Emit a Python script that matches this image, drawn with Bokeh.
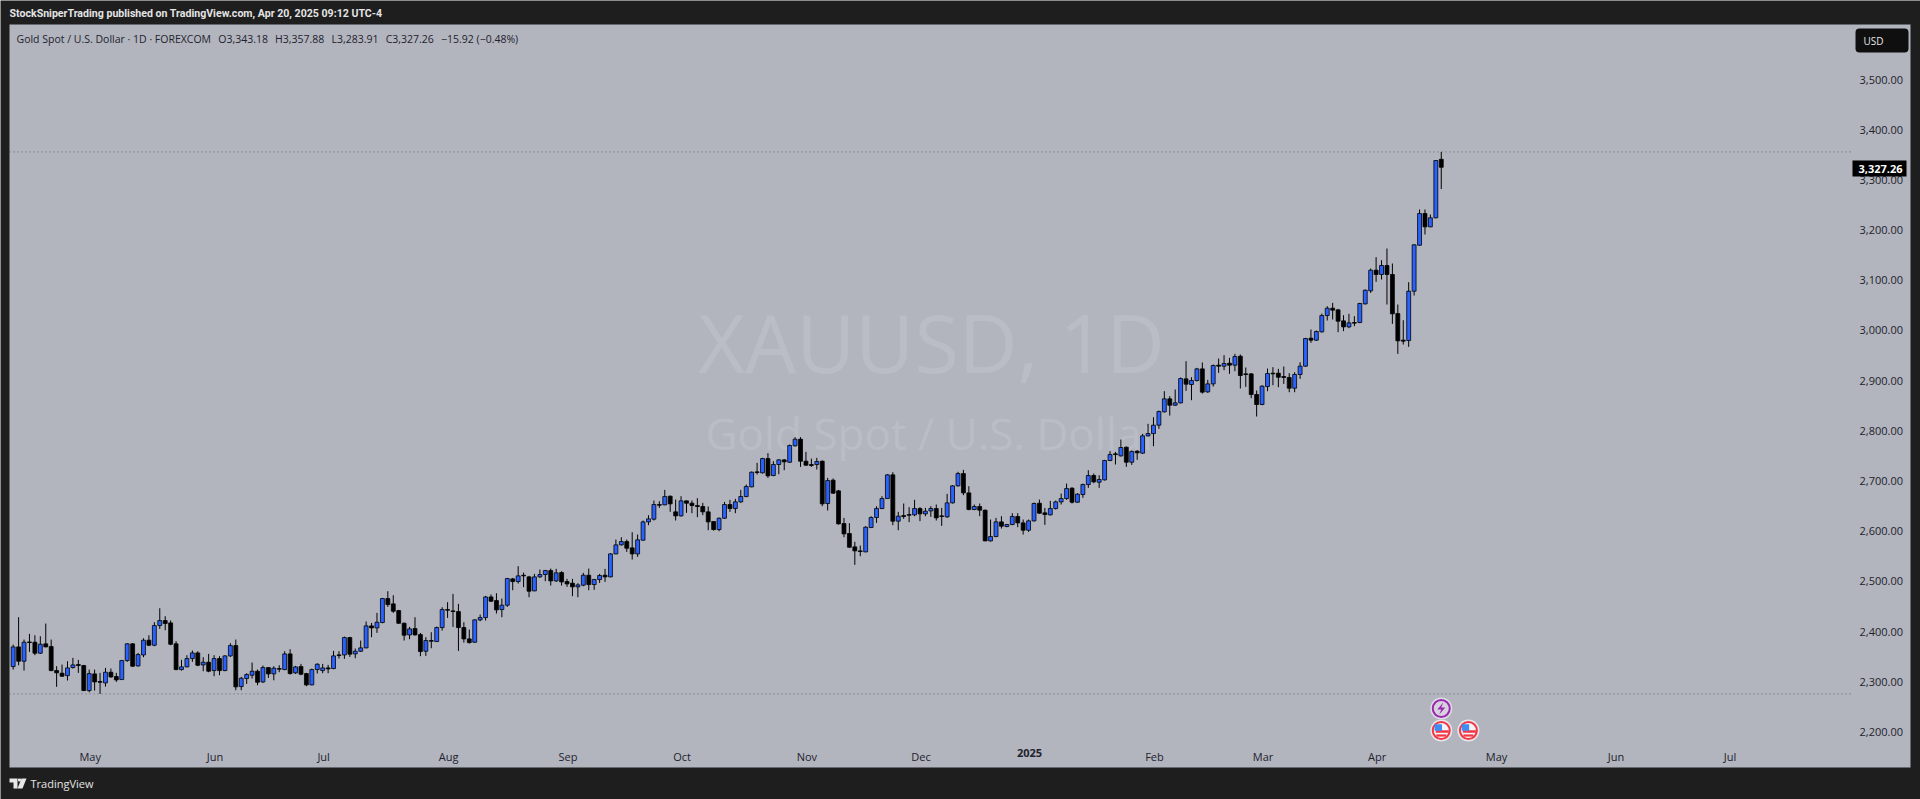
from bokeh.plotting import figure
from bokeh.embed import file_html
from bokeh.resources import INLINE
from bokeh.models import (LinearAxis, FixedTicker, NumeralTickFormatter, Label,
                          BoxAnnotation, PolyAnnotation, ColumnDataSource, Range1d)

opens = [2332.3,2371.5,2342.9,2381.4,2380.8,2358.9,2377.5,2372.1,2324.3,2319.0,2314.3,2330.3,2336.3,2334.3,2284.4,2317.7,2302.4,2299.7,2321.0,2312.4,
2306.4,2344.2,2377.5,2333.6,2355.5,2384.8,2374.8,2414.0,2424.0,2419.3,2377.5,2326.3,2331.6,2348.2,2359.5,2335.6,2340.9,2324.3,2348.2,2324.3,
2353.5,2374.1,2292.4,2308.4,2315.0,2323.0,2301.7,2330.3,2317.7,2328.3,2326.3,2357.5,2319.7,2332.3,2318.3,2295.7,2326.3,2324.3,2329.6,2328.3,
2355.5,2355.5,2390.1,2357.5,2362.8,2369.5,2413.3,2409.3,2420.0,2467.8,2457.2,2443.9,2418.6,2395.4,2408.0,2396.0,2362.8,2384.1,2382.1,2410.0,
2445.9,2443.2,2441.9,2410.0,2387.4,2380.8,2425.3,2429.9,2471.0,2463.8,2445.9,2454.6,2507.0,2501.7,2514.3,2511.0,2483.1,2511.0,2515.7,2523.6,
2503.0,2519.6,2501.7,2498.4,2491.1,2494.4,2514.3,2495.7,2505.7,2514.3,2511.0,2556.8,2574.8,2581.4,2568.8,2556.8,2584.1,2620.6,2626.0,2655.2,
2654.5,2671.8,2640.6,2632.6,2662.5,2657.8,2653.2,2651.2,2640.6,2621.3,2605.3,2627.9,2655.2,2647.2,2660.5,2671.1,2690.4,2720.3,2718.3,2746.8,
2713.0,2734.9,2744.2,2739.5,2772.1,2785.4,2741.5,2734.9,2734.9,2741.5,2657.2,2703.7,2682.4,2617.3,2597.4,2570.8,2562.8,2560.8,2609.3,2629.3,
2647.2,2667.1,2714.3,2622.0,2633.2,2635.2,2634.6,2647.2,2636.6,2642.5,2647.2,2632.6,2630.6,2658.5,2692.4,2716.9,2678.4,2645.2,2651.2,2643.9,
2582.7,2591.4,2620.6,2611.3,2615.3,2631.3,2618.6,2604.0,2622.6,2657.8,2638.6,2634.6,2647.2,2660.5,2667.1,2687.7,2659.8,2675.1,2695.0,2713.0,
2699.7,2704.3,2742.9,2756.2,2752.2,2769.4,2739.5,2761.5,2757.5,2792.0,2796.7,2813.3,2839.9,2865.8,2853.1,2857.8,2905.6,2894.3,2902.3,2925.5,
2879.7,2895.6,2932.9,2930.9,2936.8,2932.9,2950.8,2915.6,2915.6,2874.4,2854.5,2890.3,2916.9,2916.9,2910.3,2908.3,2887.0,2914.3,2930.9,2986.7,
2982.7,2999.3,3031.8,3046.4,3043.1,3021.2,3009.2,3017.9,3017.9,3055.1,3081.0,3122.2,3113.6,3131.5,3113.6,3035.8,2982.7,2982.0,3080.3,3172.0,
3235.1,3208.5,3226.5,3343.18]
highs = [2376.1,2430.6,2386.1,2397.4,2394.7,2392.7,2418.0,2386.1,2333.0,2336.3,2342.9,2349.6,2345.6,2335.6,2326.3,2326.3,2319.7,2329.6,2328.3,2319.7,
2345.6,2378.8,2378.8,2359.5,2388.7,2394.7,2420.6,2448.5,2432.6,2424.0,2382.8,2345.6,2354.9,2364.2,2362.8,2350.9,2357.5,2354.9,2352.9,2354.9,
2378.8,2386.1,2311.7,2319.0,2340.3,2326.3,2334.3,2331.0,2333.0,2334.9,2362.8,2366.8,2333.6,2337.6,2319.7,2328.3,2338.9,2337.6,2335.6,2363.5,
2362.8,2392.1,2391.4,2368.2,2384.1,2422.0,2419.3,2439.2,2469.1,2482.4,2474.4,2445.2,2420.0,2411.3,2430.6,2399.4,2390.8,2400.7,2412.0,2450.5,
2460.5,2477.1,2457.2,2420.6,2406.0,2426.6,2435.9,2473.1,2475.8,2478.4,2467.8,2509.0,2509.0,2532.3,2519.6,2513.0,2517.0,2525.6,2525.0,2527.6,
2527.0,2522.3,2507.0,2507.0,2498.4,2519.0,2527.6,2507.0,2517.0,2527.0,2558.2,2585.4,2590.0,2585.4,2600.0,2595.4,2623.3,2633.9,2663.1,2661.8,
2684.4,2673.1,2665.1,2671.8,2663.1,2663.1,2667.8,2658.5,2651.2,2622.0,2629.3,2660.5,2664.5,2666.5,2684.4,2695.0,2721.0,2738.2,2748.2,2757.5,
2741.5,2745.5,2745.5,2774.7,2789.4,2789.4,2760.1,2746.8,2748.2,2742.9,2708.3,2707.0,2684.4,2628.6,2618.0,2580.8,2573.5,2612.0,2631.9,2651.8,
2671.8,2715.6,2719.6,2640.6,2657.2,2649.9,2664.5,2649.9,2648.5,2651.8,2655.2,2648.5,2676.4,2693.7,2720.3,2724.3,2691.7,2655.2,2657.2,2645.2,
2625.3,2628.6,2632.0,2616.6,2637.9,2637.9,2625.3,2625.3,2659.2,2665.1,2648.5,2662.5,2663.1,2677.1,2697.0,2689.7,2677.8,2697.0,2723.6,2717.0,
2713.6,2744.2,2761.5,2760.1,2784.7,2770.8,2762.8,2763.5,2796.0,2816.0,2829.2,2842.5,2881.0,2871.1,2884.4,2908.3,2940.8,2908.9,2927.5,2938.2,
2903.6,2934.2,2946.1,2952.8,2947.5,2955.4,2954.1,2928.2,2916.9,2882.4,2893.0,2926.2,2928.9,2925.5,2930.2,2916.9,2918.9,2938.8,2987.3,3003.9,
3002.0,3035.8,3050.4,3057.1,3045.1,3032.5,3035.2,3030.5,3057.1,3083.6,3125.5,3148.1,3142.1,3165.4,3135.5,3053.8,3022.5,3098.3,3174.0,3243.1,
3243.1,3233.1,3341.4,3357.88]
lows = [2326.3,2334.9,2324.3,2361.5,2354.9,2357.5,2370.8,2323.0,2291.8,2311.7,2304.4,2328.3,2319.7,2283.8,2281.1,2284.4,2277.8,2292.4,2309.7,2301.7,
2305.7,2341.6,2331.6,2332.3,2350.9,2372.8,2372.8,2407.3,2404.7,2374.8,2325.0,2324.3,2331.0,2341.6,2333.0,2323.0,2321.0,2313.0,2315.0,2323.0,
2351.5,2285.1,2285.1,2297.7,2308.4,2295.1,2299.7,2309.7,2305.0,2321.0,2325.0,2316.3,2317.7,2315.0,2293.1,2295.1,2318.3,2319.0,2319.0,2327.0,
2348.2,2347.6,2351.5,2348.9,2361.5,2368.8,2390.8,2399.4,2418.6,2451.2,2439.2,2417.3,2384.1,2386.8,2394.0,2352.9,2353.5,2368.8,2381.4,2404.0,
2429.3,2411.3,2363.5,2380.1,2378.1,2379.4,2422.6,2424.0,2461.2,2437.9,2430.6,2451.2,2484.4,2497.7,2490.4,2470.5,2482.4,2509.0,2502.4,2493.7,
2501.0,2493.7,2491.1,2472.5,2470.5,2492.4,2484.4,2485.1,2499.0,2501.0,2510.3,2556.2,2573.5,2560.8,2545.6,2550.9,2583.4,2614.0,2623.3,2648.5,
2653.8,2640.6,2623.3,2631.3,2638.6,2637.9,2629.9,2633.9,2604.0,2603.3,2602.0,2626.6,2640.6,2637.9,2658.5,2669.8,2689.7,2715.0,2717.0,2708.3,
2711.6,2715.6,2723.6,2738.2,2770.8,2730.2,2732.2,2730.2,2724.9,2651.8,2643.2,2676.4,2615.3,2590.0,2568.8,2534.9,2552.2,2560.2,2608.7,2618.6,
2645.9,2666.5,2614.0,2604.0,2626.6,2620.0,2631.9,2622.0,2631.9,2630.6,2623.3,2612.7,2628.6,2657.2,2691.0,2673.8,2643.9,2643.9,2631.9,2582.1,
2581.4,2590.1,2607.4,2610.0,2614.0,2610.0,2595.4,2600.7,2621.3,2636.6,2614.6,2633.2,2645.2,2655.2,2664.5,2657.2,2658.5,2668.5,2688.4,2697.7,
2688.4,2703.0,2741.5,2734.9,2750.8,2730.2,2734.2,2744.2,2756.2,2790.7,2771.4,2806.0,2838.5,2832.5,2851.8,2856.5,2881.7,2863.1,2900.3,2876.4,
2877.7,2890.3,2917.6,2922.9,2915.6,2920.9,2886.4,2889.7,2867.1,2830.6,2853.1,2881.0,2893.0,2889.0,2895.6,2879.0,2879.0,2905.6,2929.5,2977.4,
2981.3,2998.0,3021.9,3023.9,2998.6,3000.6,3006.6,3010.6,3016.6,3053.8,3077.0,3098.9,3103.6,3053.8,3015.2,2955.4,2974.0,2969.4,3071.7,3170.7,
3193.3,3207.9,3225.8,3283.91]
closes = [2371.5,2342.9,2380.8,2380.1,2358.9,2376.8,2371.5,2324.3,2319.7,2313.0,2329.6,2335.6,2334.3,2284.4,2318.3,2301.7,2301.0,2321.0,2311.7,2305.7,
2344.2,2377.5,2333.0,2356.2,2384.8,2374.8,2414.0,2424.0,2418.0,2376.8,2326.3,2331.6,2348.2,2359.5,2334.9,2340.9,2323.0,2348.2,2324.3,2353.5,
2374.1,2291.8,2309.0,2316.3,2323.0,2301.0,2330.3,2317.7,2329.0,2327.0,2357.5,2318.3,2331.6,2317.0,2295.7,2326.3,2336.9,2329.6,2327.6,2353.5,
2354.2,2390.1,2356.9,2362.8,2369.5,2413.3,2409.3,2420.6,2467.8,2455.8,2442.6,2418.6,2394.7,2407.3,2395.4,2362.2,2384.1,2382.8,2410.0,2445.9,
2444.5,2441.9,2410.0,2387.4,2380.1,2425.3,2429.9,2471.0,2462.5,2445.2,2454.6,2507.7,2501.7,2513.0,2513.0,2482.4,2511.0,2515.7,2523.6,2503.0,
2519.0,2501.0,2497.0,2491.1,2495.0,2514.3,2495.7,2505.7,2513.7,2511.0,2556.8,2574.8,2581.4,2568.1,2556.8,2584.8,2620.6,2626.6,2655.2,2653.8,
2671.1,2656.5,2632.6,2662.5,2657.8,2653.2,2651.2,2640.6,2620.6,2605.3,2627.9,2655.2,2647.2,2660.5,2671.1,2691.0,2719.6,2719.0,2746.8,2712.3,
2734.9,2744.2,2740.2,2772.8,2785.4,2741.5,2733.6,2732.9,2740.9,2656.5,2703.0,2677.8,2616.6,2596.7,2570.1,2562.8,2561.5,2610.0,2629.3,2647.2,
2667.1,2714.3,2622.0,2631.9,2631.3,2633.9,2647.2,2636.6,2641.9,2647.2,2628.6,2631.3,2658.5,2692.4,2716.9,2678.4,2645.2,2651.2,2643.9,2582.7,
2591.4,2620.6,2612.0,2615.3,2631.3,2618.6,2604.0,2622.6,2657.2,2637.9,2635.2,2647.2,2660.5,2667.1,2687.0,2659.8,2675.8,2695.0,2713.0,2700.4,
2705.0,2742.9,2754.8,2754.8,2768.8,2739.5,2760.8,2758.2,2792.0,2796.7,2813.3,2840.5,2865.8,2853.1,2857.8,2906.3,2895.0,2902.3,2925.5,2879.1,
2895.6,2932.2,2930.9,2936.2,2932.9,2950.1,2912.3,2914.3,2874.4,2854.5,2891.0,2916.2,2915.6,2908.9,2908.3,2887.0,2914.3,2930.9,2986.0,2982.7,
3000.0,3031.8,3046.4,3042.5,3020.5,3009.2,3017.2,3016.6,3055.8,3082.3,3122.2,3113.6,3131.5,3113.6,3035.2,2981.4,2980.7,3080.3,3172.7,3235.1,
3208.5,3226.5,3340.7,3327.26]

y_ticks = [2200, 2300, 2400, 2500, 2600, 2700, 2800, 2900, 3000, 3100, 3200, 3300, 3400, 3500]
month_ticks = [14, 37, 57, 80, 102, 123, 146, 167, 210, 230, 251, 273, 295, 316]
month_labels = ["May", "Jun", "Jul", "Aug", "Sep", "Oct", "Nov", "Dec", "Feb", "Mar", "Apr", "May", "Jun", "Jul"]
year_tick = [187]
year_label = ["2025"]
event_bolt_x = [263]
event_flag_x = [263, 268]
last_price_label = "3,327.26"

header = "StockSniperTrading published on TradingView.com, Apr 20, 2025 09:12 UTC-4"
gap = "\u00a0\u00a0\u2009"
legend = ("Gold Spot / U.S. Dollar \u00b7 1D \u00b7 FOREXCOM" + gap + "O3,343.18" + gap + "H3,357.88" + gap +
          "L3,283.91" + gap + "C3,327.26" + gap + "\u221215.92 (\u22120.48%)")

BG = "#b2b5be"
DARK = "#1e1e1e"
UP = "#2962ff"
INK = "#1e222d"
FONT = "Open Sans"
W, H = 1920, 799

# page pixel -> data helpers for decoration placement
X0, DX = 12.67, 5.43
Y3000, PY = 331.0, 0.5018
def xd(px): return (px - X0) / DX
def yd(py): return 3000 + (Y3000 - py) / PY

n = len(closes)
idx = list(range(n))
up = [c >= o for o, c in zip(opens, closes)]
src = ColumnDataSource(dict(
    x=idx, o=opens, h=highs, l=lows, c=closes,
    top=[max(a, b) for a, b in zip(opens, closes)],
    bot=[min(a, b) for a, b in zip(opens, closes)],
    col=[UP if u else "#000000" for u in up]))

p = figure(width=W, height=H, output_backend="svg", toolbar_location=None,
           x_range=Range1d(xd(0), xd(1920)), y_range=Range1d(yd(799), yd(0)),
           x_axis_type=None, y_axis_type=None,
           min_border_left=0, min_border_right=0, min_border_top=0, min_border_bottom=0,
           background_fill_color=DARK, border_fill_color=DARK, outline_line_color=None)
p.grid.visible = False
# tick labels sit one pixel up / left of the candles' own scale
p.extra_y_ranges = {"labels": Range1d(yd(799) - 2, yd(0) - 2)}
p.extra_x_ranges = {"labels": Range1d(xd(0) - 0.18, xd(1920) - 0.18)}

# pane
p.add_layout(BoxAnnotation(left=xd(9), right=xd(1910), top=yd(24), bottom=yd(767),
                           fill_color=BG, fill_alpha=1, line_color="#5f626a", line_width=1, level="underlay"))

# watermark
p.add_layout(Label(x=xd(931), y=yd(341), text="XAUUSD, 1D", text_align="center", text_baseline="middle",
                   text_font=FONT, text_font_size="81px", text_color="#babdc6", level="underlay"))
p.add_layout(Label(x=xd(932), y=yd(432), text="Gold Spot / U.S. Dollar", text_align="center", text_baseline="middle",
                   text_font=FONT, text_font_size="44px", text_color="#babdc6", level="underlay"))

# high / low dotted levels
right_end = xd(1851)
p.segment(x0=[xd(9), xd(9)], x1=[right_end, right_end], y0=[max(highs), min(lows)], y1=[max(highs), min(lows)],
          line_color="#5f626a", line_width=1, line_dash="1 3")

# candles
p.segment("x", "h", "x", "l", source=src, line_color="#000000", line_width=1)
p.vbar("x", width=0.72, top="top", bottom="bot", source=src, fill_color="col", line_color="#000000", line_width=0.8)

# events
bolt_y = yd(708)
flag_y = yd(730)
p.scatter(event_bolt_x, [bolt_y], size=22, fill_color="#dcdde3", line_color=None)
p.scatter(event_bolt_x, [bolt_y], size=17, fill_color="#d6d3de", line_color="#9c27b0", line_width=2)
bx = event_bolt_x[0]
p.patch([bx + d / DX for d in (2, -4, 0, -2, 4, 0)],
        [bolt_y - d / PY for d in (-6, 1, 1, 6, -1, -1)], fill_color="#9c27b0", line_color=None)
for fx in event_flag_x:
    p.scatter([fx], [flag_y], size=22, fill_color="#e6e7ec", line_color=None)
    p.scatter([fx], [flag_y], size=17, fill_color="#f4f4f6", line_color="#f23645", line_width=2)
    p.rect([fx + 1 / DX], [flag_y - 1 / PY], width=13, height=2.5, width_units="screen", height_units="screen",
           fill_color="#f23645", line_color=None)
    p.rect([fx], [flag_y - 5 / PY], width=10, height=2.2, width_units="screen", height_units="screen",
           fill_color="#f23645", line_color=None)
    p.rect([fx - 3 / DX], [flag_y + 3 / PY], width=7.5, height=6.5, width_units="screen", height_units="screen",
           fill_color="#3f8cf2", line_color=None)

# axes drawn inside the pane
yax = LinearAxis(fixed_location=right_end, y_range_name="labels", ticker=FixedTicker(ticks=y_ticks),
                 formatter=NumeralTickFormatter(format="0,0.00"),
                 major_label_standoff=2, major_tick_line_color=None, minor_tick_line_color=None,
                 axis_line_color=None, major_label_text_font=FONT, major_label_text_font_size="11px",
                 major_label_text_color=INK)
p.add_layout(yax, "right")

xax = LinearAxis(fixed_location=yd(741), x_range_name="labels", ticker=FixedTicker(ticks=month_ticks),
                 major_label_overrides=dict(zip(month_ticks, month_labels)),
                 major_label_standoff=1, major_tick_line_color=None, minor_tick_line_color=None,
                 axis_line_color=None, major_label_text_font=FONT, major_label_text_font_size="11px",
                 major_label_text_color=INK)
p.add_layout(xax, "below")
yrax = LinearAxis(fixed_location=yd(741), x_range_name="labels", ticker=FixedTicker(ticks=year_tick),
                  major_label_overrides=dict(zip(year_tick, year_label)),
                  major_label_standoff=1, major_tick_line_color=None, minor_tick_line_color=None,
                  axis_line_color=None, major_label_text_font=FONT, major_label_text_font_size="11px",
                  major_label_text_font_style="bold", major_label_text_color=INK)
p.add_layout(yrax, "below")

# last price tag
p.add_layout(BoxAnnotation(left=xd(1852), right=xd(1906), top=yd(160), bottom=yd(176),
                           fill_color="#000000", fill_alpha=1, line_color=None))
p.add_layout(Label(x=xd(1858), y=yd(168), text=last_price_label, text_align="left", text_baseline="middle",
                   text_font=FONT, text_font_size="11px", text_font_style="bold", text_color="#ffffff"))

# currency button
p.add_layout(BoxAnnotation(left=xd(1855), right=xd(1908), top=yd(28), bottom=yd(52), border_radius=4,
                           fill_color="#0f0f0f", fill_alpha=1, line_color=None))
p.add_layout(Label(x=xd(1863), y=yd(40), text="USD", text_align="left", text_baseline="middle",
                   text_font=FONT, text_font_size="10px", text_color="#e8e8e8"))

# header, legend, brand
p.add_layout(Label(x=xd(9), y=yd(13), text=header, text_align="left", text_baseline="middle",
                   text_font="Roboto", text_font_size="10.6px", text_font_style="bold", text_color="#e4e4e4"))
p.add_layout(Label(x=xd(16), y=yd(38), text=legend, text_align="left", text_baseline="middle",
                   text_font=FONT, text_font_size="10.5px", text_color=INK))
p.add_layout(Label(x=xd(30), y=yd(783), text="TradingView", text_align="left", text_baseline="middle",
                   text_font=FONT, text_font_size="11px", text_color="#e4e4e4"))
LOGO = "#e8e8e8"
p.add_layout(PolyAnnotation(xs=[xd(v) for v in (9, 17, 17, 13, 13, 9)], ys=[yd(v) for v in (778, 778, 788, 788, 782, 782)],
                            fill_color=LOGO, fill_alpha=1, line_color=None))
p.add_layout(PolyAnnotation(xs=[xd(v) for v in (21, 26, 22, 17)], ys=[yd(v) for v in (778, 778, 788, 788)],
                            fill_color=LOGO, fill_alpha=1, line_color=None))
p.add_layout(BoxAnnotation(left=xd(17.5), right=xd(20.5), top=yd(778), bottom=yd(781), border_radius=1,
                           fill_color=LOGO, fill_alpha=1, line_color=None))

open("out.html", "w").write(file_html(p, INLINE))
